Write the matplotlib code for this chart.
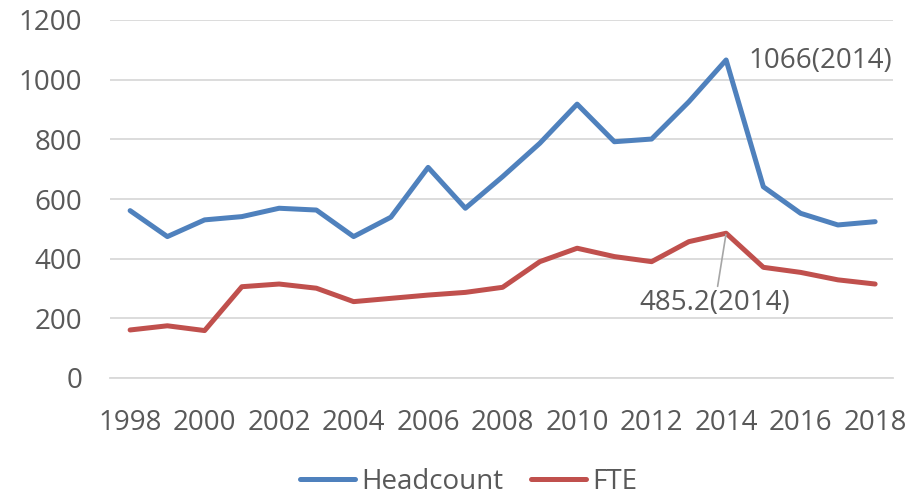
import matplotlib
matplotlib.use('Agg')
import matplotlib.pyplot as plt

# data
years = list(range(1998, 2019))
headcount = [561, 474, 530, 541, 569, 563, 474, 539, 706, 569, 675,
             787, 918, 792, 801, 926, 1066, 641, 552, 513, 524]
fte = [161, 175, 159, 306, 315, 301, 256, 267, 278, 287, 304,
       390, 435, 407, 390, 457, 485.2, 371, 354, 329, 315]
xticks = list(range(1998, 2019, 2))
yticks = [0, 200, 400, 600, 800, 1000, 1200]

txt = '#595959'
plt.rcParams['font.family'] = ['Open Sans', 'DejaVu Sans']

fig = plt.figure(figsize=(9.2, 4.97), dpi=100)
ax = fig.add_axes([110 / 920, 1 - 378 / 497, (893 - 110) / 920, (378 - 20) / 497])

ax.plot(years, headcount, color='#4f81bd', linewidth=3.6, label='Headcount',
        solid_capstyle='round', solid_joinstyle='round')
ax.plot(years, fte, color='#c0504d', linewidth=3.6, label='FTE',
        solid_capstyle='round', solid_joinstyle='round')

ax.set_xlim(1997.46, 2018.48)
ax.set_ylim(0, 1200)
ax.set_xticks(xticks)
ax.set_yticks(yticks)
ax.tick_params(length=0, labelsize=20, colors=txt)
ax.tick_params(axis='y', pad=20)
ax.tick_params(axis='x', pad=22)
ax.grid(axis='y', color='#d9d9d9', linewidth=1.3)
ax.set_axisbelow(True)
for s in ['top', 'right', 'left']:
    ax.spines[s].set_visible(False)
ax.spines['bottom'].set_color('#d9d9d9')
ax.spines['bottom'].set_linewidth(1.3)

# labels for the 2014 peaks
i = years.index(2014)
ax.text(2014.59, 1063, '%d(2014)' % headcount[i], fontsize=20, color=txt,
        ha='left', va='center')
ax.annotate('%.1f(2014)' % fte[i], xy=(2014, fte[i]), xytext=(2013.7, 251),
            fontsize=20, color=txt, ha='center', va='center',
            arrowprops=dict(arrowstyle='-', color='#a6a6a6', lw=1.2,
                            shrinkA=0, shrinkB=1))

fig.legend(loc='center', bbox_to_anchor=(0.509, 0.031), ncol=2, frameon=False,
           fontsize=20, labelcolor=txt, handlelength=2.0, handletextpad=0.2,
           columnspacing=1.0)

fig.savefig('out.png', dpi=100)
